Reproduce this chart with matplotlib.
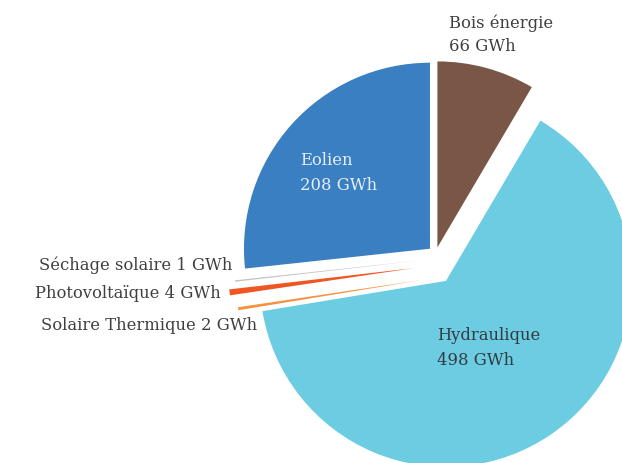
import matplotlib
matplotlib.use("Agg")
import matplotlib.pyplot as plt

# ---- data ----
categories = ["Bois énergie", "Hydraulique", "Solaire Thermique", "Photovoltaïque",
              "Séchage solaire", "Eolien"]
values_gwh = [66, 498, 2, 4, 1, 208]

# ---- style / layout ----
colors = ["#7a5646", "#6bcce2", "#f7913f", "#ee5624", "#c4c4c4", "#3a7fc1"]
# per-slice offsets of each wedge (pie radius units)
offsets = [(0.013, 0.030), (0.059, -0.150), (-0.070, -0.145),
           (-0.113, -0.081), (-0.081, -0.040), (-0.027, 0.023)]

W, H = 622, 463
R_PX = 186.0
CX, CY = 435.0, 253.0

fig = plt.figure(figsize=(W / 100, H / 100), dpi=100)
ax = fig.add_axes([0, 0, 1, 1])
wedges, _ = ax.pie(values_gwh, colors=colors, startangle=90, counterclock=False,
                   radius=1.0, wedgeprops=dict(linewidth=0))
for w, (dx, dy) in zip(wedges, offsets):
    w.set_center((dx, dy))
    w.set_antialiased(True)

ax.set_xlim(-CX / R_PX, (W - CX) / R_PX)
ax.set_ylim(-(H - CY) / R_PX, CY / R_PX)
ax.set_aspect("equal")
ax.axis("off")

font = "DejaVu Serif"
fs = 11.8
dark = "#3f3f3f"


def label(x, y, s, ha="left", color=dark, ls=1.5):
    fig.text(x / W, 1 - y / H, s, ha=ha, va="center", fontsize=fs,
             family=font, color=color, linespacing=ls)


label(449, 35, f"{categories[0]}\n{values_gwh[0]} GWh", ls=1.45)
label(300, 173, f"{categories[5]}\n{values_gwh[5]} GWh", color="#e6eef7", ls=1.58)
label(437, 348, f"{categories[1]}\n{values_gwh[1]} GWh", color="#333b42", ls=1.58)
label(232, 265, f"{categories[4]} {values_gwh[4]} GWh", ha="right")
label(221, 294, f"{categories[3]} {values_gwh[3]} GWh", ha="right")
label(257, 325, f"{categories[2]} {values_gwh[2]} GWh", ha="right")

fig.savefig("out.png", dpi=100)
